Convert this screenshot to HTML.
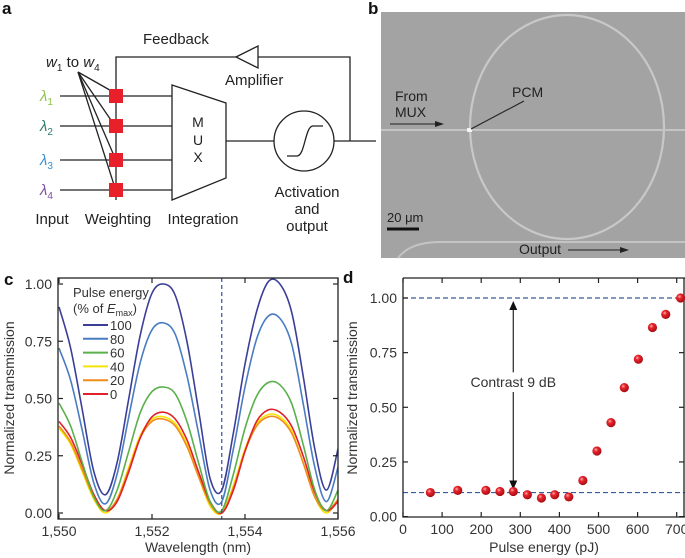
<!DOCTYPE html>
<html><head><meta charset="utf-8">
<style>
html,body{margin:0;padding:0;background:#fff}
svg{display:block;font-family:"Liberation Sans",Arial,sans-serif}
</style></head>
<body>
<svg id="fig" width="685" height="558" viewBox="0 0 685 558" xmlns="http://www.w3.org/2000/svg">
<!-- Panel a -->
<g stroke="#222" stroke-width="1.3" fill="none">
  <text x="2" y="14" font-size="17" font-weight="bold" fill="#111" stroke="none">a</text>
  <text x="143" y="44" font-size="15" fill="#222" stroke="none">Feedback</text>
  <polyline points="116,200 116,57 350,57 350,141"/>
  <polygon points="236,57 258,46 258,68" fill="#fff"/>
  <text x="225" y="85" font-size="15" fill="#222" stroke="none">Amplifier</text>
  <line x1="60" y1="96" x2="172" y2="96"/><line x1="60" y1="126" x2="172" y2="126"/>
  <line x1="60" y1="160" x2="172" y2="160"/><line x1="60" y1="190" x2="172" y2="190"/>
  <line x1="78" y1="72" x2="115" y2="93"/><line x1="78" y1="72" x2="115" y2="126"/>
  <line x1="78" y1="72" x2="115" y2="158"/><line x1="78" y1="72" x2="115" y2="188"/>
  <g fill="#e8202a" stroke="none">
    <rect x="109" y="89" width="14" height="14"/><rect x="109" y="119" width="14" height="14"/>
    <rect x="109" y="153" width="14" height="14"/><rect x="109" y="183" width="14" height="14"/>
  </g>
  <g stroke="none" font-size="15" font-style="italic">
    <text x="40" y="101" fill="#8bc34a">λ<tspan font-size="10" dy="4" font-style="normal">1</tspan></text>
    <text x="40" y="131" fill="#2e7d6e">λ<tspan font-size="10" dy="4" font-style="normal">2</tspan></text>
    <text x="40" y="165" fill="#3a8fd0">λ<tspan font-size="10" dy="4" font-style="normal">3</tspan></text>
    <text x="40" y="195" fill="#7a4fa0">λ<tspan font-size="10" dy="4" font-style="normal">4</tspan></text>
  </g>
  <text x="46" y="67" font-size="15" fill="#222" stroke="none"><tspan font-style="italic">w</tspan><tspan font-size="10" dy="4">1</tspan><tspan dy="-4"> to </tspan><tspan font-style="italic">w</tspan><tspan font-size="10" dy="4">4</tspan></text>
  <polygon points="172,85 226,103 226,178 172,200" fill="#fff"/>
  <g font-size="14" fill="#222" stroke="none" text-anchor="middle"><text x="198" y="127">M</text><text x="198" y="145">U</text><text x="198" y="162">X</text></g>
  <line x1="226" y1="141" x2="274" y2="141"/>
  <circle cx="304" cy="141" r="30" fill="#fff"/>
  <path d="M287,156 L297,156 C305,156 305,126 313,126 L323,126"/>
  <line x1="334" y1="141" x2="376" y2="141"/>
  <g font-size="15" fill="#222" stroke="none" text-anchor="middle">
    <text x="52" y="224">Input</text><text x="118" y="224">Weighting</text><text x="203" y="224">Integration</text>
    <text x="307" y="197">Activation</text><text x="307" y="214">and</text><text x="307" y="231">output</text>
  </g>
</g>
<!-- Panel b -->
<g>
  <text x="368" y="14" font-size="17" font-weight="bold" fill="#111">b</text>
  <rect x="381" y="12" width="304" height="246" fill="#a3a3a3"/>
  <ellipse cx="567" cy="127" rx="97" ry="112" fill="none" stroke="#c8c8c8" stroke-width="2.2"/>
  <line x1="381" y1="130" x2="685" y2="130" stroke="#c4c4c4" stroke-width="2"/>
  <path d="M398,258 Q410,242 440,242 L685,242" fill="none" stroke="#c4c4c4" stroke-width="2"/>
  <rect x="467" y="128" width="5" height="4" fill="#f4f4f4"/>
  <line x1="471" y1="129" x2="524" y2="101" stroke="#222" stroke-width="1.1"/>
  <text x="512" y="97" font-size="14" fill="#222">PCM</text>
  <text x="395" y="101" font-size="14" fill="#222">From</text>
  <text x="395" y="117" font-size="14" fill="#222">MUX</text>
  <line x1="390" y1="124" x2="440" y2="124" stroke="#222" stroke-width="1.1"/>
  <polygon points="444,124 435,121 435,127" fill="#222"/>
  <line x1="387" y1="229" x2="419" y2="229" stroke="#111" stroke-width="3"/>
  <text x="387" y="222" font-size="13" fill="#222">20 μm</text>
  <text x="519" y="254" font-size="14" fill="#222">Output</text>
  <line x1="568" y1="250" x2="624" y2="250" stroke="#222" stroke-width="1.1"/>
  <polygon points="629,250 620,247 620,253" fill="#222"/>
</g>
<g id="panelC"></g>
<g id="panelD"></g>
</svg>
<script>
const NS="http://www.w3.org/2000/svg";
function mk(parent,tag,attrs,text){const e=document.createElementNS(NS,tag);for(const k in attrs)e.setAttribute(k,attrs[k]);if(text!==undefined)e.textContent=text;parent.appendChild(e);return e;}

// ---- Panel c data ----
const wavelengths=[1550,1550.25,1550.5,1550.75,1551,1551.25,1551.5,1551.75,1552,1552.25,1552.5,1552.75,1553,1553.25,1553.5,1553.75,1554,1554.25,1554.5,1554.75,1555,1555.25,1555.5,1555.75,1556];
const seriesLabels=["100","80","60","40","20","0"];
const t100=[0.90,0.72,0.45,0.18,0.08,0.22,0.50,0.78,0.96,1.00,0.95,0.75,0.45,0.15,0.10,0.35,0.65,0.88,1.01,1.00,0.88,0.60,0.28,0.10,0.28];
const t80=[0.72,0.58,0.36,0.13,0.04,0.17,0.42,0.66,0.80,0.83,0.78,0.60,0.35,0.10,0.05,0.28,0.55,0.76,0.86,0.85,0.74,0.48,0.20,0.05,0.20];
const t60=[0.48,0.38,0.22,0.07,0.01,0.10,0.27,0.44,0.53,0.55,0.52,0.40,0.22,0.05,0.01,0.17,0.37,0.51,0.57,0.56,0.48,0.30,0.10,0.01,0.10];
const t40=[0.37,0.30,0.18,0.06,0.00,0.06,0.20,0.34,0.41,0.42,0.39,0.30,0.16,0.03,0.00,0.12,0.28,0.39,0.43,0.42,0.36,0.22,0.07,0.00,0.06];
const t20=[0.38,0.31,0.19,0.07,0.01,0.06,0.19,0.33,0.40,0.41,0.38,0.29,0.16,0.04,0.00,0.11,0.27,0.38,0.42,0.41,0.35,0.22,0.07,0.01,0.06];
const t0=[0.40,0.33,0.21,0.08,0.01,0.05,0.18,0.33,0.42,0.44,0.41,0.32,0.18,0.05,0.00,0.10,0.27,0.40,0.45,0.44,0.38,0.25,0.09,0.01,0.05];
const cXTicks=[1550,1552,1554,1556];
const cXTickLabels=["1,550","1,552","1,554","1,556"];
const cYTicks=[0,0.25,0.5,0.75,1.0];
const cYTickLabels=["0.00","0.25","0.50","0.75","1.00"];
const markerWavelength=1553.5;

// ---- Panel d data ----
const energies=[70,140,212,248,282,318,354,388,424,460,496,532,566,602,638,672,710];
const transmission=[0.11,0.12,0.12,0.115,0.115,0.10,0.085,0.10,0.09,0.165,0.30,0.43,0.59,0.72,0.865,0.925,1.00];
const dXTicks=[0,100,200,300,400,500,600,700];
const dYTicks=[0,0.25,0.5,0.75,1.0];
const dYTickLabels=["0.00","0.25","0.50","0.75","1.00"];
const highLevel=1.0, lowLevel=0.11;

(function(){
 const g=document.getElementById('panelC');
 const L=58,R=338,T=278,B=519;
 const x=v=>59+(v-1550)*(338-59)/6;
 const y=v=>513-229*v;
 const lbl=mk(g,'text',{x:4,y:285,'font-size':17,'font-weight':'bold',fill:'#111'},'c');
 
 
 const clip=mk(g,'clipPath',{id:'clipC'});mk(clip,'rect',{x:L,y:T,width:R-L,height:B-T});
 const colors=["#3b3f98","#4a7cc2","#5ab04a","#f5e400","#f08c1e","#e0202a"];
 const data=[t100,t80,t60,t40,t20,t0];
 const order=[3,4,5,2,1,0];
 order.forEach(i=>{
  const pts=wavelengths.map((w,k)=>[x(w),y(data[i][k])]);
  let d='M'+pts[0][0]+','+pts[0][1];
  for(let k=0;k<pts.length-1;k++){
   const p0=pts[Math.max(0,k-1)],p1=pts[k],p2=pts[k+1],p3=pts[Math.min(pts.length-1,k+2)];
   const c1=[p1[0]+(p2[0]-p0[0])/6,p1[1]+(p2[1]-p0[1])/6],c2=[p2[0]-(p3[0]-p1[0])/6,p2[1]-(p3[1]-p1[1])/6];
   d+=` C${c1[0].toFixed(1)},${c1[1].toFixed(1)} ${c2[0].toFixed(1)},${c2[1].toFixed(1)} ${p2[0].toFixed(1)},${p2[1].toFixed(1)}`;
  }
  const p=mk(g,'path',{d:d,fill:'none',stroke:colors[i],'stroke-width':1.6,'clip-path':'url(#clipC)'});
  
  
 });
 const vl=mk(g,'line',{x1:x(markerWavelength),x2:x(markerWavelength),y1:T,y2:B,stroke:'#3a4f9a','stroke-width':1.2,'stroke-dasharray':'4,3'});
 
 
 const fr=mk(g,'rect',{x:L,y:T,width:R-L,height:B-T,fill:'none',stroke:'#222','stroke-width':1.3});
 
 
 cXTicks.forEach((v,i)=>{
  mk(g,'line',{x1:x(v),x2:x(v),y1:B,y2:B-5,stroke:'#222','stroke-width':1.2});
  mk(g,'line',{x1:x(v),x2:x(v),y1:T,y2:T+5,stroke:'#222','stroke-width':1.2});
  const t=mk(g,'text',{x:x(v),y:B+17,'font-size':14,'text-anchor':'middle',fill:'#333'},cXTickLabels[i]);
  
  
 });
 cYTicks.forEach((v,i)=>{
  mk(g,'line',{x1:L,x2:L+5,y1:y(v),y2:y(v),stroke:'#222','stroke-width':1.2});
  mk(g,'line',{x1:R,x2:R-5,y1:y(v),y2:y(v),stroke:'#222','stroke-width':1.2});
  const t=mk(g,'text',{x:52,y:y(v)+5,'font-size':14,'text-anchor':'end',fill:'#333'},cYTickLabels[i]);
  
  
 });
 const xt=mk(g,'text',{x:198,y:552,'font-size':14,'text-anchor':'middle',fill:'#333'},'Wavelength (nm)');
 
 
 const yt=mk(g,'text',{x:0,y:0,'font-size':14,'text-anchor':'middle',fill:'#333',transform:'translate(14,398) rotate(-90)'},'Normalized transmission');
 
 
 const lt=mk(g,'text',{x:73,y:297,'font-size':13,fill:'#333'},'Pulse energy');
 
 
 const l2=mk(g,'text',{x:73,y:313,'font-size':13,fill:'#333'});
 l2.innerHTML='(% of <tspan font-style="italic">E</tspan><tspan font-size="9" dy="3">max</tspan><tspan dy="-3">)</tspan>';
 seriesLabels.forEach((s,i)=>{
  const yy=325+13.8*i;
  const e=mk(g,'g',{});
  
  
  mk(e,'line',{x1:83,x2:108,y1:yy,y2:yy,stroke:colors[i],'stroke-width':2});
  mk(e,'text',{x:110,y:yy+5,'font-size':13,fill:'#333'},s);
 });
})();

(function(){
 const g=document.getElementById('panelD');
 const L=403,R=685,T=278,B=517;
 const x=v=>403+v*0.391;
 const y=v=>516.6-218.6*v;
 const lbl=mk(g,'text',{x:343,y:283,'font-size':17,'font-weight':'bold',fill:'#111'},'d');
 
 
 [highLevel,lowLevel].forEach(v=>{
  const l=mk(g,'line',{x1:L,x2:R,y1:y(v),y2:y(v),stroke:'#3a5a9a','stroke-width':1.2,'stroke-dasharray':'5,3'});
  
  
 });
 const fr=mk(g,'path',{d:`M${L},${T} L${L},${B} L${R},${B} M${L},${T} L${R},${T} M${R-1},${T} L${R-1},${B}`,fill:'none',stroke:'#222','stroke-width':1.3});
 
 
 dXTicks.forEach(v=>{
  mk(g,'line',{x1:x(v),x2:x(v),y1:B,y2:B-5,stroke:'#222','stroke-width':1.2});
  mk(g,'line',{x1:x(v),x2:x(v),y1:T,y2:T+5,stroke:'#222','stroke-width':1.2});
  const t=mk(g,'text',{x:x(v),y:B+17,'font-size':14,'text-anchor':'middle',fill:'#333'},String(v));
  
  
 });
 dYTicks.forEach((v,i)=>{
  mk(g,'line',{x1:L,x2:L+5,y1:y(v),y2:y(v),stroke:'#222','stroke-width':1.2});
  mk(g,'line',{x1:R-1,x2:R-6,y1:y(v),y2:y(v),stroke:'#222','stroke-width':1.2});
  const t=mk(g,'text',{x:397,y:y(v)+5,'font-size':14,'text-anchor':'end',fill:'#333'},dYTickLabels[i]);
  
  
 });
 const ax=x(282);
 const ar=mk(g,'g',{});
 
 
 mk(ar,'line',{x1:ax,x2:ax,y1:y(highLevel)+8,y2:y(0.66),stroke:'#111','stroke-width':1.1});
 mk(ar,'line',{x1:ax,x2:ax,y1:y(0.57),y2:y(lowLevel)-8,stroke:'#111','stroke-width':1.1});
 mk(ar,'polygon',{points:`${ax},${y(highLevel)+3} ${ax-4},${y(highLevel)+12} ${ax+4},${y(highLevel)+12}`,fill:'#111'});
 mk(ar,'polygon',{points:`${ax},${y(lowLevel)-3} ${ax-4},${y(lowLevel)-12} ${ax+4},${y(lowLevel)-12}`,fill:'#111'});
 const ct=mk(g,'text',{x:ax,y:y(0.615)+5,'font-size':14,'text-anchor':'middle',fill:'#333'},'Contrast 9 dB');
 
 
 const defs=mk(g,'defs',{});
 const rg=mk(defs,'radialGradient',{id:'ballGrad',cx:'0.38',cy:'0.35',r:'0.65'});
 mk(rg,'stop',{offset:'0','stop-color':'#ffb0b0'});
 mk(rg,'stop',{offset:'0.35','stop-color':'#e8242c'});
 mk(rg,'stop',{offset:'1','stop-color':'#a80d14'});
 energies.forEach((e,i)=>{
  const c=mk(g,'circle',{cx:x(e),cy:y(transmission[i]),r:4.6,fill:'url(#ballGrad)'});
  
  
 });
 const xt=mk(g,'text',{x:544,y:552,'font-size':14,'text-anchor':'middle',fill:'#333'},'Pulse energy (pJ)');
 
 
 const yt=mk(g,'text',{x:0,y:0,'font-size':14,'text-anchor':'middle',fill:'#333',transform:'translate(357,398) rotate(-90)'},'Normalized transmission');
 
 
})();
</script>
</body></html>
